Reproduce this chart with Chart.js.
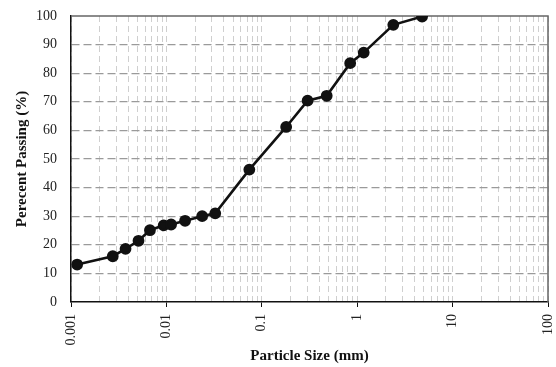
<!DOCTYPE html>
<html>
<head>
<meta charset="utf-8">
<script src="https://cdn.jsdelivr.net/npm/chart.js@4"></script>
<style>
  html, body { margin: 0; padding: 0; background: #fff; }
  #wrap { width: 556px; height: 367px; }
</style>
</head>
<body>
<div id="wrap"><canvas id="grafico"></canvas></div>
<script>
// Datos
const tamanos = [0.00116, 0.00274, 0.00373, 0.0051, 0.00672, 0.00936, 0.0112, 0.0157, 0.0237, 0.0325, 0.074, 0.180, 0.302, 0.479, 0.844, 1.17, 2.39, 4.79];
const pasante = [13.1, 16.0, 18.6, 21.4, 25.1, 26.8, 27.1, 28.4, 30.0, 31.0, 46.3, 61.2, 70.4, 72.1, 83.5, 87.2, 96.9, 99.8];
const decadas = [0.001, 0.01, 0.1, 1, 10, 100];
const etiquetasX = ['0.001', '0.01', '0.1', '1', '10', '100'];
const multiplos = [1, 2, 3, 4, 5, 6, 7, 8, 9];

const fuente = '"Liberation Serif", "Times New Roman", serif';

// ticks del eje logarítmico: décadas + intermedios
const ticksX = [];
decadas.forEach((d, i) => {
    if (i === decadas.length - 1) { ticksX.push(d); return; }
    multiplos.forEach(m => ticksX.push(+(d * m).toPrecision(3)));
});
const esDecada = v => decadas.some(d => Math.abs(v - d) < d * 1e-6);

// etiquetas del eje x giradas de abajo hacia arriba
const etiquetasGiradas = {
    id: 'etiquetasGiradas',
    afterDraw(chart) {
        const ctx = chart.ctx;
        const sx = chart.scales.x;
        ctx.save();
        ctx.font = '14px ' + fuente;
        ctx.fillStyle = '#222';
        ctx.textAlign = 'right';
        ctx.textBaseline = 'middle';
        decadas.forEach((d, i) => {
            const px = sx.getPixelForValue(d);
            ctx.save();
            ctx.translate(px, sx.top + 12);
            ctx.rotate(-Math.PI / 2);
            ctx.fillText(etiquetasX[i], 0, 0);
            ctx.restore();
        });
        ctx.restore();
    }
};

new Chart(document.getElementById('grafico').getContext('2d'), {
    type: 'scatter',
    data: {
        datasets: [{
            data: tamanos.map((t, i) => ({ x: t, y: pasante[i] })),
            showLine: true,
            borderColor: '#111',
            backgroundColor: '#111',
            borderWidth: 2.6,
            pointRadius: 4.6,
            pointHoverRadius: 4.6,
            tension: 0
        }]
    },
    options: {
        responsive: true,
        maintainAspectRatio: false,
        animation: false,
        layout: { padding: { top: 16, right: 8, left: 0, bottom: 2 } },
        plugins: { legend: { display: false }, tooltip: { enabled: false } },
        scales: {
            x: {
                type: 'logarithmic',
                min: 0.001,
                max: 100,
                afterBuildTicks: s => { s.ticks = ticksX.map(v => ({ value: v })); },
                ticks: { display: false, autoSkip: false },
                grid: {
                    color: '#cfcfcf',
                    lineWidth: 1,
                    drawTicks: true,
                    tickLength: 5,
                    tickColor: c => (c.tick && esDecada(c.tick.value)) ? '#111' : 'rgba(0,0,0,0)',
                    tickBorderDash: []
                },
                border: { display: true, color: '#111', width: 1.5, dash: [6, 4] },
                title: {
                    display: true,
                    text: 'Particle Size (mm)',
                    color: '#111',
                    font: { family: fuente, size: 15, weight: 'bold' },
                    padding: { top: 40, bottom: 0 }
                }
            },
            y: {
                min: 0,
                max: 100,
                afterFit: s => { s.width = 71; s.paddingTop = 0; s.paddingBottom = 0; },
                ticks: {
                    stepSize: 10,
                    color: '#222',
                    font: { family: fuente, size: 14 },
                    padding: 14
                },
                grid: {
                    color: c => (c.tick && (c.tick.value === 0 || c.tick.value === 100)) ? 'rgba(0,0,0,0)' : '#9a9a9a',
                    lineWidth: 1.3,
                    drawTicks: false
                },
                border: { display: true, color: '#111', width: 1.5, dash: [8, 4] },
                title: {
                    display: true,
                    text: 'Perecent Passing (%)',
                    color: '#111',
                    font: { family: fuente, size: 15, weight: 'bold' },
                    padding: { top: 13, bottom: 0 }
                }
            }
        }
    },
    plugins: [etiquetasGiradas, {
        id: 'marco',
        beforeDatasetsDraw(chart) {
            const a = chart.chartArea;
            const ctx = chart.ctx;
            ctx.save();
            ctx.strokeStyle = '#666';
            ctx.lineWidth = 1.5;
            ctx.beginPath();
            ctx.moveTo(a.left, a.top);
            ctx.lineTo(a.right, a.top);
            ctx.lineTo(a.right, a.bottom);
            ctx.stroke();
            ctx.restore();
        }
    }]
});
</script>
</body>
</html>
